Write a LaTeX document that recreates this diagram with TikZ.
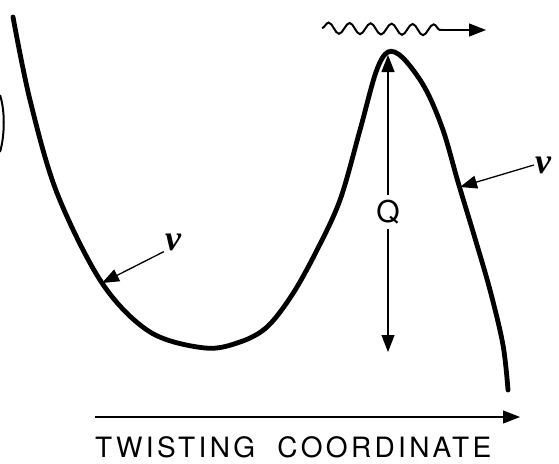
\documentclass[tikz,border=0pt]{standalone}
\usepackage{fontspec}
\newfontfamily\labelfont[LetterSpace=12]{TeX Gyre Heros}
\newfontfamily\nufont{Liberation Serif}
\usetikzlibrary{arrows.meta,decorations.pathmorphing}

\begin{document}
\begin{tikzpicture}[x=1pt, y=-1pt,
  tip/.style={-{Triangle[length=17pt,width=13pt]}},
  thinline/.style={line width=1.3pt},
  nu/.style={font=\nufont\bfseries\itshape\fontsize{36}{40}\selectfont, inner sep=1pt}]
  \useasboundingbox (0,0) rectangle (559,463);

  % potential curve
  \draw[line width=4.8pt, line cap=round] plot[smooth, tension=0.55] coordinates {
    (13,17) (30,100) (57,193) (102,283) (150,332) (205,348) (240,342)
    (267,327) (292,295) (316,252) (340,200) (360,130) (376,72) (388,52)
    (403,58) (425,88) (443,130) (458,182) (474,235) (490,290) (503,345)
    (508,390)};

  % edge of neighbouring figure
  \draw[line width=2pt] (0,95) .. controls (5,110) and (5,135) .. (0,152);

  \coordinate (Qtop) at (388,55);
  \coordinate (Qbot) at (388,352);
  \node[font=\labelfont\fontsize{30}{34}\selectfont, inner sep=5pt] (Q) at (388,212) {Q};
  \draw[thinline, tip] (Q) -- (Qtop);
  \draw[thinline, tip] (Q) -- (Qbot);

  \coordinate (N1) at (102,283);
  \coordinate (N2) at (460,187);
  \node[nu] (nu1) at (173,242) {ν};
  \node[nu] (nu2) at (543,165) {ν};
  \draw[thinline, tip] (nu1.south west) -- (N1);
  \draw[thinline, tip] (nu2.west) -- (N2);

  % emitted photon
  \coordinate (W1) at (322,28);
  \coordinate (W2) at (443,30);
  \coordinate (W3) at (486,30);
  \draw[line width=2pt, decorate, decoration={snake, amplitude=5.5pt, segment length=21pt}] (W1) -- (W2);
  \draw[thinline, tip] (W2) -- (W3);

  % axis
  \coordinate (X1) at (95,417);
  \coordinate (X2) at (520,417);
  \draw[thinline, tip] (X1) -- (X2);
  \node[font=\labelfont\fontsize{28}{32}\selectfont, anchor=base west, inner sep=0pt] (xlabel) at (95,457) {TWISTING\ \ COORDINATE};
\end{tikzpicture}
\end{document}
